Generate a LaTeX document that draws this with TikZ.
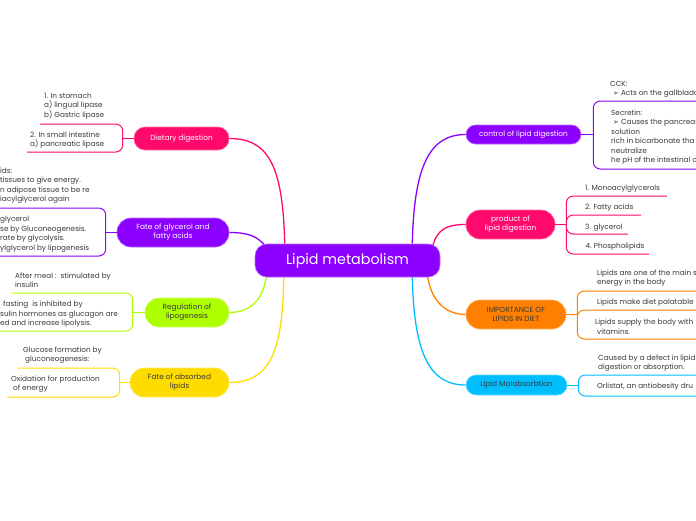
\documentclass[tikz,border=0pt]{standalone}
\usepackage{fontspec}
\setmainfont{Poppins}
\newfontfamily\symfont{DejaVu Sans}
\usepackage{tikz}
\usetikzlibrary{backgrounds}

\definecolor{mmpurple}{HTML}{8B00FF}
\definecolor{mmpink}{HTML}{FF0A6C}
\definecolor{mmlime}{HTML}{AEFF00}
\definecolor{mmyellow}{HTML}{FFDC00}
\definecolor{mmorange}{HTML}{FF8000}
\definecolor{mmblue}{HTML}{00BFFF}
\definecolor{leafgray}{HTML}{3A3A3A}

\newcommand{\arr}{{\symfont\fontsize{7}{9.5}\selectfont ➢}}

\begin{document}
\begin{tikzpicture}[x=1pt,y=-1pt,
  root node/.style={rectangle,rounded corners=12pt,fill=mmpurple,draw=mmpurple!60!white,line width=0.6pt,text=white,minimum width=185pt,minimum height=33pt,inner sep=0pt,font=\fontsize{14.3}{16}\selectfont},
  topic node/.style={rectangle,rounded corners=10pt,fill=#1,draw=#1!60!white,line width=0.6pt,align=center,inner sep=0pt,font=\fontsize{7.4}{9.2}\selectfont},
  leaf text/.style={anchor=west,align=left,inner sep=0pt,text=leafgray,font=\fontsize{7.3}{9.5}\selectfont},
  branch/.style={line width=1.3pt},
  twig/.style={line width=1pt,rounded corners=7pt}]

  \useasboundingbox (0,0) rectangle (696,520);
  \clip (0,0) rectangle (696,520);

  % main topics
  \node[root node] (root) at (347.5,260.5) {Lipid metabolism};

  \node[topic node=mmpink,text=white,minimum width=95pt,minimum height=23pt,rounded corners=11pt] (dd) at (181.5,138.5) {Dietary digestion};
  \node[topic node=mmpurple,text=white,minimum width=112pt,minimum height=29pt,rounded corners=14pt] (fg) at (173,232.5) {Fate of glycerol and\\fatty acids};
  \node[topic node=mmlime,text=leafgray,minimum width=84pt,minimum height=29pt,rounded corners=14pt] (rl) at (187,312.5) {Regulation of\\lipogenesis};
  \node[topic node=mmyellow,text=leafgray,minimum width=99pt,minimum height=29pt,rounded corners=14pt] (fa) at (179.5,382.5) {Fate of absorbed\\lipids};
  \node[topic node=mmpurple,text=white,minimum width=115pt,minimum height=19pt,rounded corners=9.5pt] (cl) at (523.5,134.5) {control of lipid digestion};
  \node[topic node=mmpink,text=white,minimum width=89pt,minimum height=29pt,rounded corners=14pt] (pl) at (510.5,224.5) {product of\\lipid digestion};
  \node[topic node=mmorange,text=leafgray,minimum width=100pt,minimum height=29pt,rounded corners=14pt] (il) at (516,314.5) {IMPORTANCE OF\\LIPIDS IN DIET};
  \node[topic node=mmblue,text=leafgray,minimum width=101pt,minimum height=20pt,rounded corners=10pt] (ml) at (516.5,385) {Lipid Malabsorbtion};

  \begin{scope}[on background layer]
    \fill[white] (0,0) rectangle (696,520);
    \draw[branch,mmpink] ([xshift=30pt]root.north west) .. controls (283,165) and (268,138.5) .. (dd.east);
    \draw[branch,mmpurple] ([xshift=12pt,yshift=-4pt]root.north west) .. controls (258,236) and (248,232.5) .. (fg.east);
    \draw[branch,mmlime] ([xshift=12pt,yshift=4pt]root.south west) .. controls (264,300) and (250,312.5) .. (rl.east);
    \draw[branch,mmyellow] ([xshift=29pt]root.south west) .. controls (283,355) and (268,382.5) .. (fa.east);
    \draw[branch,mmpurple] ([xshift=-28pt]root.north east) .. controls (414,165) and (430,134.5) .. (cl.west);
    \draw[branch,mmpink] ([xshift=-8pt,yshift=-4pt]root.north east) .. controls (437,228) and (448,224.5) .. (pl.west);
    \draw[branch,mmorange] ([xshift=-13pt,yshift=4pt]root.south east) .. controls (430,300) and (445,314.5) .. (il.west);
    \draw[branch,mmblue] ([xshift=-28pt]root.south east) .. controls (414,355) and (430,385) .. (ml.west);
  \end{scope}

  % Dietary digestion
  \node[leaf text] (dd1) at (44,106.2) {1. In stomach\\a) lingual lipase\\b) Gastric lipase};
  \node[leaf text] (dd2) at (30,140) {2. In small intestine\\a) pancreatic lipase};
  \coordinate (dd1u) at (40,124);
  \coordinate (dd2u) at (27,152);
  \draw[twig,mmpink] (dd.west) -- ++(-11,0) coordinate (ddf);
  \draw[twig,mmpink] (ddf) |- (dd1u) (ddf) |- (dd2u);

  % Fate of glycerol and fatty acids
  \node[leaf text] (fg1) at (0,185.5) {ids:\\tissues to give energy.\\n adipose tissue to be re\\iacylglycerol again};
  \node[leaf text] (fg2) at (0,234.4) {glycerol\\se by Gluconeogenesis.\\rate by glycolysis.\\ylglycerol by lipogenesis};
  \coordinate (fg1u) at (-2,208);
  \coordinate (fg2u) at (-2,256);
  \draw[twig,mmpurple] (fg.west) -- ++(-11,0) coordinate (fgf);
  \draw[twig,mmpurple] (fgf) |- (fg1u) (fgf) |- (fg2u);

  % Regulation of lipogenesis
  \node[leaf text] (rl1) at (15,280) {After meal :\ \ stimulated by\\insulin};
  \node[leaf text] (rl2) at (0,314.3) {\hspace*{3pt}fasting\ \ is inhibited by\\sulin hormones as glucagon are\\ed and increase lipolysis.};
  \coordinate (rl1u) at (12,293);
  \coordinate (rl2u) at (-2,331);
  \draw[twig,mmlime] (rl.west) -- ++(-12,0) coordinate (rlf);
  \draw[twig,mmlime] (rlf) |- (rl1u) (rlf) |- (rl2u);

  % Fate of absorbed lipids
  \node[leaf text] (fa1) at (23,355) {Glucose formation by\\\hspace*{2pt}gluconeogenesis:};
  \node[leaf text] (fa2) at (11,384.3) {Oxidation for production\\\hspace*{2pt}of energy};
  \coordinate (fa1u) at (18,368);
  \coordinate (fa2u) at (7,397);
  \draw[twig,mmyellow] (fa.west) -- ++(-10,0) coordinate (faf);
  \draw[twig,mmyellow] (faf) |- (fa1u) (faf) |- (fa2u);

  % control of lipid digestion
  \node[leaf text] (cl1) at (610,89.3) {CCK:\\\hspace*{3pt}\arr\ Acts on the gallblado};
  \node[leaf text] (cl2) at (611,137.2) {Secretin:\\\hspace*{2pt}\arr\ Causes the pancreas\\solution\\rich in bicarbonate tha\\neutralize\\he pH of the intestinal c};
  \coordinate (cl1u) at (700,101);
  \coordinate (cl2u) at (700,169);
  \draw[twig,mmpurple] (cl.east) -- ++(12,0) coordinate (clf);
  \draw[twig,mmpurple] (clf) |- (cl1u) (clf) |- (cl2u);

  % product of lipid digestion
  \node[leaf text] (pl1) at (585,188.3) {1. Monoacylglycerols};
  \node[leaf text] (pl2) at (585,207.7) {2. Fatty acids};
  \node[leaf text] (pl3) at (585,227.3) {3. glycerol};
  \node[leaf text] (pl4) at (585.5,246.7) {4.\ Phospholipids};
  \coordinate (pl1u) at (667,196);
  \coordinate (pl2u) at (641,215);
  \coordinate (pl3u) at (628,234);
  \coordinate (pl4u) at (649,254);
  \draw[twig,mmpink] (pl.east) -- ++(11,0) coordinate (plf);
  \draw[twig,mmpink] (plf) |- (pl1u) (plf) |- (pl2u) (plf) |- (pl3u) (plf) |- (pl4u);

  % importance of lipids in diet
  \node[leaf text] (il1) at (597,278.3) {Lipids are one of the main s\\energy in the body};
  \node[leaf text] (il2) at (597,302.7) {Lipids make diet palatable};
  \node[leaf text] (il3) at (595,326.5) {Lipids supply the body with\\\hspace*{2pt}vitamins.};
  \coordinate (il1u) at (700,291);
  \coordinate (il2u) at (700,310);
  \coordinate (il3u) at (700,339);
  \draw[twig,mmorange] (il.east) -- ++(11,0) coordinate (ilf);
  \draw[twig,mmorange] (ilf) |- (il1u) (ilf) |- (il2u) (ilf) |- (il3u);

  % lipid malabsorbtion
  \node[leaf text] (ml1) at (598,363.3) {Caused by a defect in lipid\\digestion or absorption.};
  \node[leaf text] (ml2) at (597,386.7) {Orlistat, an antiobesity dru};
  \coordinate (ml1u) at (700,375);
  \coordinate (ml2u) at (700,396);
  \draw[twig,mmblue] (ml.east) -- ++(11,0) coordinate (mlf);
  \draw[twig,mmblue] (mlf) |- (ml1u) (mlf) |- (ml2u);
\end{tikzpicture}
\end{document}
